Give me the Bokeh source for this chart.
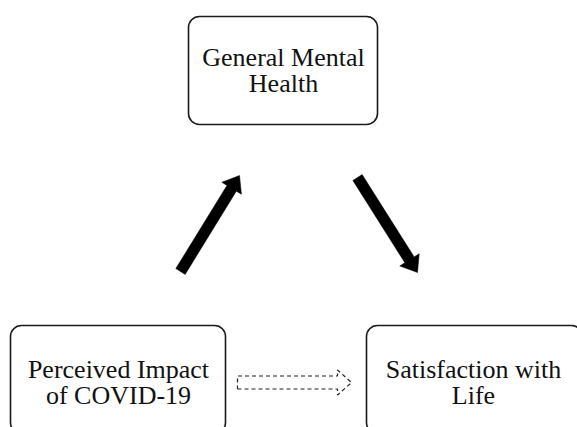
import math
from bokeh.plotting import figure
from bokeh.models import ColumnDataSource, Range1d
from bokeh.core.properties import value
from bokeh.embed import file_html
from bokeh.resources import INLINE

# ---- data ----
node_labels = ["General Mental\nHealth", "Perceived Impact\nof COVID-19", "Satisfaction with\nLife"]
edges_from = [1, 0, 1]
edges_to = [0, 2, 2]
edge_style = ["solid", "solid", "dashed"]

# ---- layout (pixel-like coordinates, y downward) ----
box_left = [188, 10, 366]
box_right = [377, 225, 582]
box_top = [16, 325, 325]
box_bottom = [124, 433, 433]
text_x = [283, 118, 473]
text_y = [70, 382, 382]

arrow_tail = [(180, 271), (357, 177), (237, 382)]
arrow_tip = [(239, 175), (417, 272), (351, 382)]

W, H = 577, 427
p = figure(width=W, height=H, output_backend="svg", toolbar_location=None,
           x_range=Range1d(0, W), y_range=Range1d(H, 0),
           min_border=0, background_fill_color="white")
p.axis.visible = False
p.grid.visible = False
p.outline_line_color = None

p.quad(left=box_left, right=box_right, top=box_top, bottom=box_bottom,
       fill_color="white", line_color="#1a1a1a", line_width=1.6, border_radius=11)

p.text(x=text_x, y=text_y, text=node_labels, text_align="center", text_baseline="middle",
       text_font=value("Liberation Serif"), text_font_size="26px", text_color="#111111",
       text_line_height=0.92)


def arrow_poly(t, h, w, hw, hl):
    dx, dy = h[0] - t[0], h[1] - t[1]
    L = math.hypot(dx, dy)
    ux, uy = dx / L, dy / L
    nx, ny = -uy, ux
    bx, by = h[0] - hl * ux, h[1] - hl * uy
    pts = [(t[0] + w * nx, t[1] + w * ny), (bx + w * nx, by + w * ny),
           (bx + hw * nx, by + hw * ny), h,
           (bx - hw * nx, by - hw * ny), (bx - w * nx, by - w * ny),
           (t[0] - w * nx, t[1] - w * ny)]
    return [q[0] for q in pts], [q[1] for q in pts]


for i, style in enumerate(edge_style):
    t, h = arrow_tail[i], arrow_tip[i]
    if style == "solid":
        xs, ys = arrow_poly(t, h, 5.5, 11.5, 15)
        p.patch(xs, ys, fill_color="black", line_color="black", line_width=0.5)
    else:
        xs, ys = arrow_poly(t, h, 6.5, 12.5, 14)
        xs.append(xs[0]); ys.append(ys[0])
        p.line(xs, ys, line_color="#222222", line_width=1.2, line_dash="4 3")

open("out.html", "w").write(file_html(p, INLINE))
